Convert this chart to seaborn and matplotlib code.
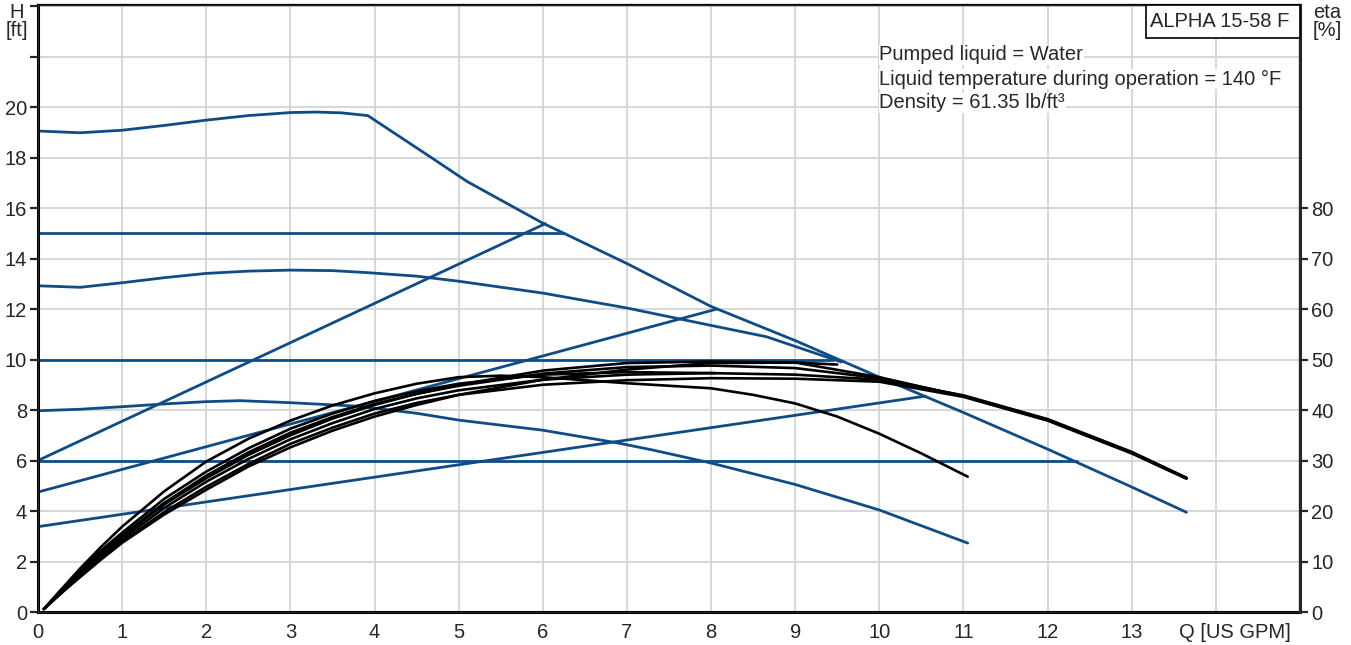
import matplotlib
matplotlib.use("Agg")
import matplotlib.pyplot as plt
import matplotlib.patches as patches
import seaborn as sns

# --- H(Q) curves, blue (Q in US GPM, H in ft) ---
max_q = [0, 0.5, 1, 1.5, 2, 2.5, 3, 3.3, 3.6, 3.92, 4.66, 5.1, 6.0, 7.0, 8.0, 9.0, 10.0, 11.0, 12.0, 13.0, 13.65]
max_h = [19.05, 18.98, 19.08, 19.27, 19.48, 19.66, 19.78, 19.8, 19.77, 19.66, 18.03, 17.05, 15.4, 13.8, 12.1, 10.75, 9.3, 7.9, 6.45, 4.95, 3.95]

mid_q = [0, 0.5, 1, 1.5, 2, 2.5, 3, 3.5, 3.92, 4.5, 5, 6, 7, 8, 8.66, 9.55]
mid_h = [12.92, 12.86, 13.04, 13.24, 13.41, 13.5, 13.54, 13.52, 13.44, 13.3, 13.1, 12.63, 12.04, 11.35, 10.9, 9.9]

low_q = [0, 0.5, 1, 1.5, 2, 2.4, 3, 3.8, 4.5, 5, 6, 6.9, 7.3, 8, 9, 10, 11.05]
low_h = [7.97, 8.03, 8.13, 8.24, 8.33, 8.37, 8.29, 8.15, 7.87, 7.6, 7.2, 6.69, 6.42, 5.9, 5.05, 4.04, 2.73]

# constant pressure lines
cp_h = [15, 10, 6]
cp_end = [6.25, 9.45, 12.35]

# proportional pressure lines (start, end)
pp_q = [[0, 6.03], [0, 8.07], [0, 10.55]]
pp_h = [[6.0, 15.38], [4.75, 12.0], [3.38, 8.55]]

# --- efficiency curves, black (eta in %) ---
eta_q = [0.07, 0.25, 0.5, 0.75, 1, 1.5, 2, 2.5, 3, 3.5, 4, 4.5, 5, 6, 7, 8, 9, 10, 11, 12, 13, 13.65]
eta_max = [0.6, 3.4, 6.9, 10.4, 13.7, 19.3, 24.2, 28.8, 32.6, 35.9, 38.7, 41.0, 43.0, 46.0, 48.0, 49.3, 49.4, 46.5, 42.7, 38.0, 31.5, 26.5]
eta_a = [0.6, 3.5, 7.4, 11.1, 14.5, 20.6, 25.8, 30.3, 34.2, 37.4, 40.2, 42.3, 43.9, 46.0, 47.0, 47.3, 47.0, 46.0, 42.9, 38.2, 31.7, 26.6]
eta_b = [0.6, 3.3, 7.1, 10.7, 14.0, 19.8, 24.8, 29.3, 33.3, 36.5, 39.3, 41.4, 43.0, 45.0, 45.9, 46.3, 46.2, 45.6, 42.6, 37.9, 31.4, 26.4]
eta_c = [0.6, 3.6, 7.8, 11.6, 15.2, 21.6, 27.0, 31.6, 35.5, 38.6, 41.2, 43.2, 44.8, 47.2, 48.5, 48.8, 48.3, 46.3, 42.8, 38.1, 31.6, 26.5]

eta_low_q = [0.07, 0.25, 0.5, 0.75, 1, 1.5, 2, 2.5, 3, 3.5, 4, 4.5, 5, 5.5, 6, 7, 8, 8.5, 9, 9.5, 10, 10.5, 11.05]
eta_low = [0.6, 4.0, 8.6, 12.9, 16.9, 23.9, 29.8, 34.3, 37.9, 40.9, 43.3, 45.2, 46.5, 46.8, 46.5, 45.3, 44.3, 43.0, 41.3, 38.7, 35.3, 31.4, 26.8]

eta_pp_q = [0.07, 0.25, 0.5, 0.75, 1, 1.5, 2, 2.5, 3, 3.5, 4, 4.5, 5, 6, 7, 8.05]
eta_pp = [0.6, 3.8, 8.2, 12.2, 15.7, 22.4, 27.8, 32.4, 36.3, 39.3, 41.8, 43.7, 45.2, 47.0, 47.5, 47.3]

eta_cp_q = [0.07, 0.25, 0.5, 0.75, 1, 1.5, 2, 2.5, 3, 3.5, 4, 4.5, 5, 6, 7, 8, 9, 9.5]
eta_cp = [0.6, 3.7, 8.0, 11.7, 15.0, 21.3, 26.5, 31.1, 35.0, 38.3, 41.0, 43.2, 45.0, 47.8, 49.3, 49.6, 49.4, 49.0]

x_labels = [str(i) for i in range(14)] + ['', '']
h_ticks = list(range(0, 25, 2))
eta_ticks = list(range(0, 90, 10))

BLUE = '#0f4c86'
FS = 14.5

sns.set_style('white')
plt.rcParams['font.family'] = ['Liberation Sans', 'DejaVu Sans']

fig = plt.figure(figsize=(13.51, 6.45), dpi=100)
ax = fig.add_axes([38 / 1351, 1 - 612 / 645, 1262 / 1351, 607 / 645])

for q, h in [(max_q, max_h), (mid_q, mid_h), (low_q, low_h)]:
    sns.lineplot(x=q, y=h, ax=ax, color=BLUE, lw=2.0, sort=False, estimator=None)
for h, e in zip(cp_h, cp_end):
    sns.lineplot(x=[0, e], y=[h, h], ax=ax, color=BLUE, lw=2.0, sort=False, estimator=None)
for q, h in zip(pp_q, pp_h):
    sns.lineplot(x=q, y=h, ax=ax, color=BLUE, lw=2.0, sort=False, estimator=None)

ax.set_xlim(0, 15)
ax.set_ylim(0, 24.04)
ax.set_xticks(range(0, 16))
ax.set_xticklabels(x_labels)
ax.set_yticks(h_ticks)
ax.set_yticklabels([str(t) if t <= 20 else '' for t in h_ticks])
for t in ax.yaxis.get_major_ticks()[11:]:
    t.tick1line.set_visible(False)
ax.grid(True, color='#d2d4d6', lw=1.3)
ax.set_axisbelow(True)
ax.tick_params(direction='out', length=6, width=1.6, labelsize=FS, pad=2)
for s in ax.spines.values():
    s.set_color('black')
    s.set_linewidth(1.6)
ax.spines['left'].set_linewidth(2.2)
ax.spines['bottom'].set_linewidth(2.2)

ax2 = ax.twinx()
for q, e in [(eta_q, eta_max), (eta_q, eta_a), (eta_q, eta_b), (eta_q, eta_c),
             (eta_low_q, eta_low), (eta_pp_q, eta_pp), (eta_cp_q, eta_cp)]:
    sns.lineplot(x=q, y=e, ax=ax2, color='black', lw=1.9, sort=False, estimator=None)
ax2.set_ylim(0, 24.04 * 5)
ax2.set_yticks(eta_ticks)
ax2.grid(False)
ax2.tick_params(direction='out', length=6, width=1.6, labelsize=FS, pad=2)
ax2.spines['right'].set_linewidth(2.2)
ax2.set_ylabel('')
ax.set_ylabel('')

ax.annotate('Q [US GPM]', xy=(14.22, 0), xycoords=('data', 'axes fraction'),
            xytext=(0, -8), textcoords='offset points', ha='center', va='top', fontsize=FS)

fig.text(17 / 1351, 1 - 3 / 645, 'H\n[ft]', ha='center', va='top', fontsize=FS, linespacing=0.95)
fig.text(1313 / 1351, 1 - 3 / 645, 'eta\n[%]', ha='left', va='top', fontsize=FS, linespacing=0.95)

# model box
x0 = (1146 - 38) / 1262
y0 = (612 - 38) / 607
ax2.add_patch(patches.Rectangle((x0, y0), 1 - x0, 1 - y0, transform=ax.transAxes,
                                facecolor='white', edgecolor='black', lw=1.2, clip_on=False, zorder=5))
ax2.text(x0 + 0.003, (y0 + 1) / 2, 'ALPHA 15-58 F', transform=ax.transAxes,
         ha='left', va='center', fontsize=FS, zorder=6)

info = ['Pumped liquid = Water', 'Liquid temperature during operation = 140 °F', 'Density = 61.35 lb/ft³']
for i, line in enumerate(info):
    ax2.text(10.0, (22.06 - 0.95 * i) * 5, line, ha='left', va='center', fontsize=FS,
             bbox=dict(facecolor='white', edgecolor='none', pad=0.5), zorder=6)

fig.savefig('out.png', dpi=100)
